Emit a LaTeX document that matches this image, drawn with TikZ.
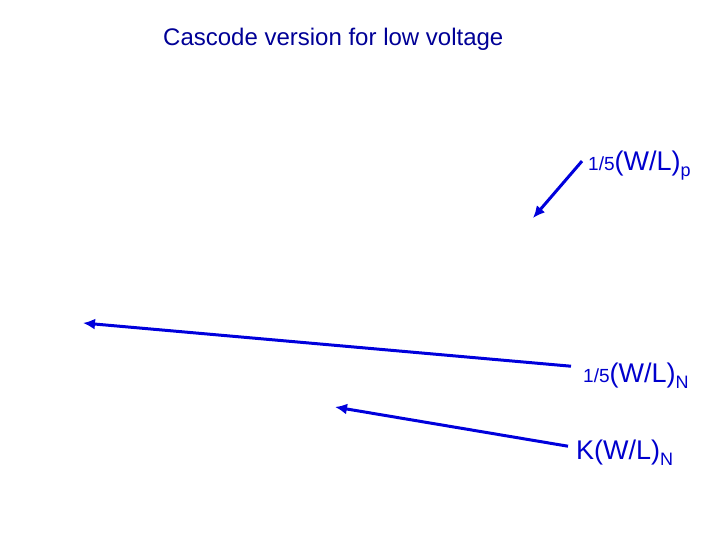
\documentclass[tikz,border=0pt]{standalone}
\usepackage{fontspec}
\setmainfont{Liberation Sans}
\usetikzlibrary{arrows.meta}
\definecolor{navy}{RGB}{0,0,150}
\definecolor{labelblue}{RGB}{0,0,205}
\definecolor{arrowblue}{RGB}{0,0,220}
\newcommand{\ratiofrac}[1]{{\fontsize{19}{22}\selectfont #1}}
\newcommand{\ratiowl}[1]{{\fontsize{27}{30}\selectfont #1}}
\newcommand{\ratiosub}[1]{\raisebox{-6pt}{\fontsize{18}{20}\selectfont #1}}

\begin{document}
\begin{tikzpicture}[x=1pt, y=-1pt,
  pointer/.style={arrowblue, line width=3pt, -{Latex[length=12pt,width=11pt]}},
  ratio/.style={text=labelblue, inner sep=0pt, anchor=base west}]
\useasboundingbox (0,0) rectangle (720,540);
% title
\node[text=navy, font=\fontsize{24}{28}\selectfont, anchor=base west, inner sep=0pt] (title) at (163,46) {Cascode version for low voltage};
% width labels
\node[ratio] (lp) at (588,171) {\ratiofrac{1/5}\ratiowl{(W/L)}\ratiosub{p}};
\node[ratio] (ln) at (583,382) {\ratiofrac{1/5}\ratiowl{(W/L)}\ratiosub{N}};
\node[ratio] (lk) at (576,459) {\ratiowl{K(W/L)}\ratiosub{N}};
% arrow tips
\coordinate (ptip) at (533,218);
\coordinate (ntip) at (83,323);
\coordinate (ktip) at (335,407);
% arrows
\draw[pointer] ([xshift=-6pt,yshift=5pt]lp.west) -- (ptip);
\draw[pointer] ([xshift=-12pt,yshift=9pt]ln.west) -- (ntip);
\draw[pointer] ([xshift=-8pt,yshift=6pt]lk.west) -- (ktip);
\end{tikzpicture}
\end{document}
